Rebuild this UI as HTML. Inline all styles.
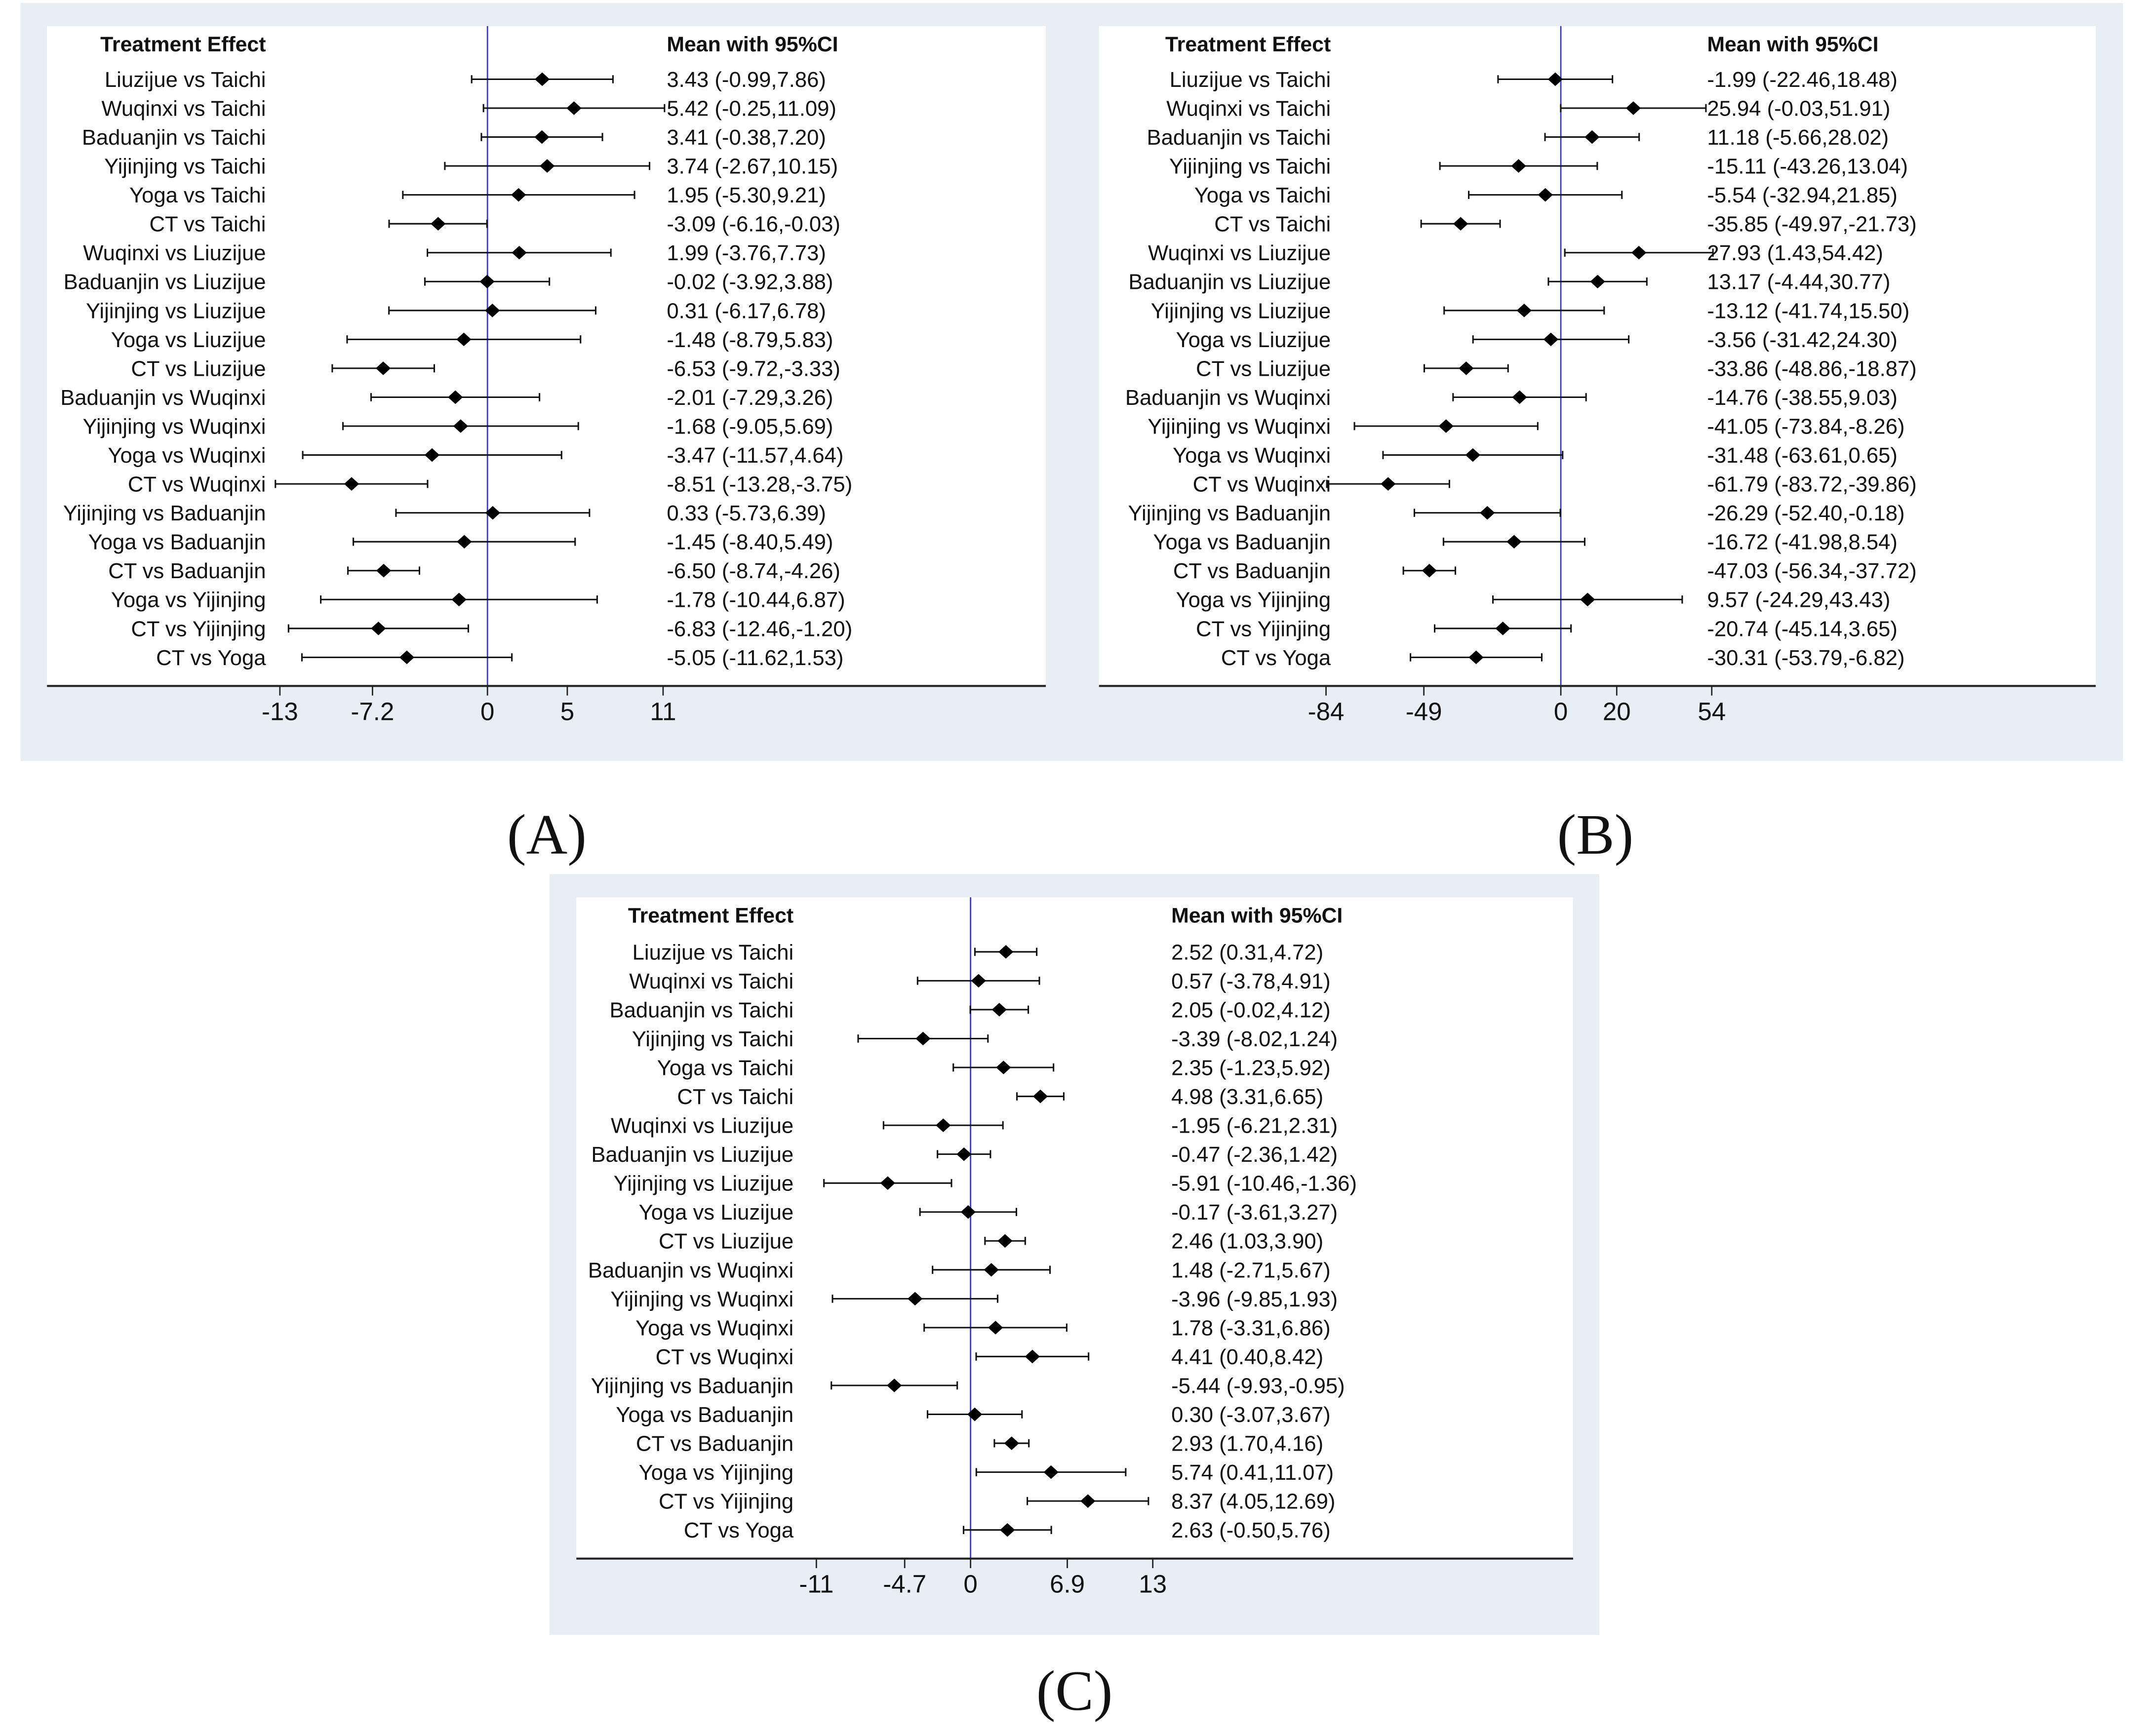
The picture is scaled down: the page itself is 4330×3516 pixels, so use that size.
<!DOCTYPE html>
<html><head><meta charset="utf-8"><style>
html,body{margin:0;padding:0;background:#fff}
svg{display:block}
text{font-family:"Liberation Sans",Arial,sans-serif;fill:#111}
</style></head><body>
<svg id="fig" width="4330" height="3516" viewBox="0 0 1568 1273" xmlns="http://www.w3.org/2000/svg"></svg>
<script>
const labels=["Liuzijue vs Taichi","Wuqinxi vs Taichi","Baduanjin vs Taichi","Yijinjing vs Taichi","Yoga vs Taichi","CT vs Taichi","Wuqinxi vs Liuzijue","Baduanjin vs Liuzijue","Yijinjing vs Liuzijue","Yoga vs Liuzijue","CT vs Liuzijue","Baduanjin vs Wuqinxi","Yijinjing vs Wuqinxi","Yoga vs Wuqinxi","CT vs Wuqinxi","Yijinjing vs Baduanjin","Yoga vs Baduanjin","CT vs Baduanjin","Yoga vs Yijinjing","CT vs Yijinjing","CT vs Yoga"];
const meanA=[3.43,5.42,3.41,3.74,1.95,-3.09,1.99,-0.02,0.31,-1.48,-6.53,-2.01,-1.68,-3.47,-8.51,0.33,-1.45,-6.50,-1.78,-6.83,-5.05];
const loA=[-0.99,-0.25,-0.38,-2.67,-5.30,-6.16,-3.76,-3.92,-6.17,-8.79,-9.72,-7.29,-9.05,-11.57,-13.28,-5.73,-8.40,-8.74,-10.44,-12.46,-11.62];
const hiA=[7.86,11.09,7.20,10.15,9.21,-0.03,7.73,3.88,6.78,5.83,-3.33,3.26,5.69,4.64,-3.75,6.39,5.49,-4.26,6.87,-1.20,1.53];
const ticksA=[-13,-7.2,0,5,11];
const meanB=[-1.99,25.94,11.18,-15.11,-5.54,-35.85,27.93,13.17,-13.12,-3.56,-33.86,-14.76,-41.05,-31.48,-61.79,-26.29,-16.72,-47.03,9.57,-20.74,-30.31];
const loB=[-22.46,-0.03,-5.66,-43.26,-32.94,-49.97,1.43,-4.44,-41.74,-31.42,-48.86,-38.55,-73.84,-63.61,-83.72,-52.40,-41.98,-56.34,-24.29,-45.14,-53.79];
const hiB=[18.48,51.91,28.02,13.04,21.85,-21.73,54.42,30.77,15.50,24.30,-18.87,9.03,-8.26,0.65,-39.86,-0.18,8.54,-37.72,43.43,3.65,-6.82];
const ticksB=[-84,-49,0,20,54];
const meanC=[2.52,0.57,2.05,-3.39,2.35,4.98,-1.95,-0.47,-5.91,-0.17,2.46,1.48,-3.96,1.78,4.41,-5.44,0.30,2.93,5.74,8.37,2.63];
const loC=[0.31,-3.78,-0.02,-8.02,-1.23,3.31,-6.21,-2.36,-10.46,-3.61,1.03,-2.71,-9.85,-3.31,0.40,-9.93,-3.07,1.70,0.41,4.05,-0.50];
const hiC=[4.72,4.91,4.12,1.24,5.92,6.65,2.31,1.42,-1.36,3.27,3.90,5.67,1.93,6.86,8.42,-0.95,3.67,4.16,11.07,12.69,5.76];
const ticksC=[-11,-4.7,0,6.9,13];

const NS="http://www.w3.org/2000/svg";
const svg=document.getElementById('fig');
function mk(tag,attrs,parent,txt){const e=document.createElementNS(NS,tag);for(const k in attrs)e.setAttribute(k,attrs[k]);if(txt!==undefined)e.textContent=txt;(parent||svg).appendChild(e);return e;}

// backgrounds
const bgAB=mk('rect',{x:15,y:2,width:1542,height:556,fill:'#e8eef3'});


const bgC=mk('rect',{x:403,y:641,width:770,height:558,fill:'#e8eef3'});



function panel(id,cfg,mean,lo,hi,ticks){
  const g=mk('g',{});
  
  
  const px=v=>cfg.zero+v*cfg.scale;
  const w=mk('rect',{x:cfg.left,y:cfg.top,width:cfg.right-cfg.left,height:cfg.axisY-cfg.top,fill:'#ffffff'},g);
  
  
  const zl=mk('line',{x1:px(0),x2:px(0),y1:cfg.top,y2:cfg.axisY,stroke:'#3a3ab4','stroke-width':1},g);
  
  
  const h1=mk('text',{x:cfg.labelX,y:cfg.headY+5.5,'text-anchor':'end','font-size':15.5,'font-weight':'bold'},g,'Treatment Effect');
  
  
  const h2=mk('text',{x:cfg.valX,y:cfg.headY+5.5,'font-size':15.5,'font-weight':'bold'},g,'Mean with 95%CI');
  
  
  for(let i=0;i<labels.length;i++){
    const y=cfg.row0+i*21.2;
    const r=mk('g',{},g);
    
    
    const t=mk('text',{x:cfg.labelX,y:y+5.6,'text-anchor':'end','font-size':15.8},r,labels[i]);
    
    
    const v=mk('text',{x:cfg.valX,y:y+5.6,'font-size':15.8},r,mean[i].toFixed(2)+' ('+lo[i].toFixed(2)+','+hi[i].toFixed(2)+')');
    
    
    const ci=mk('path',{d:`M${px(lo[i])},${y}H${px(hi[i])}M${px(lo[i])},${y-3}V${y+3}M${px(hi[i])},${y-3}V${y+3}`,stroke:'#111','stroke-width':1.1,fill:'none'},r);
    
    
    const m=px(mean[i]);
    const d=mk('path',{d:`M${m-5.5},${y}L${m},${y-5}L${m+5.5},${y}L${m},${y+5}Z`,fill:'#000'},r);
    
    
  }
  const ax=mk('line',{x1:cfg.left,x2:cfg.right,y1:cfg.axisY,y2:cfg.axisY,stroke:'#222','stroke-width':1.5},g);
  
  
  ticks.forEach(tv=>{
    const tk=mk('line',{x1:px(tv),x2:px(tv),y1:cfg.axisY,y2:cfg.axisY+7,stroke:'#222','stroke-width':1},g);
    
    
    const tl=mk('text',{x:px(tv),y:cfg.axisY+25,'text-anchor':'middle','font-size':18.5},g,String(tv));
    
    
  });
  const cap=mk('text',{x:cfg.capX,y:cfg.capY,'text-anchor':'middle','font-size':42,style:'font-family:"Liberation Serif",serif'},svg,'('+id.toUpperCase()+')');
  
  
}
panel('a',{left:34.5,right:767,top:19,axisY:503,zero:357.5,scale:11.71,labelX:195,valX:489,headY:32,row0:58,capX:401,capY:626},meanA,loA,hiA,ticksA);
panel('b',{left:806,right:1537,top:19,axisY:503,zero:1144.7,scale:2.05,labelX:976,valX:1252,headY:32,row0:58,capX:1170,capY:626},meanB,loB,hiB,ticksB);
panel('c',{left:422.7,right:1153.7,top:658,axisY:1143,zero:711.8,scale:10.28,labelX:582,valX:859,headY:671,row0:698,capX:788,capY:1254},meanC,loC,hiC,ticksC);
</script>
</body></html>
